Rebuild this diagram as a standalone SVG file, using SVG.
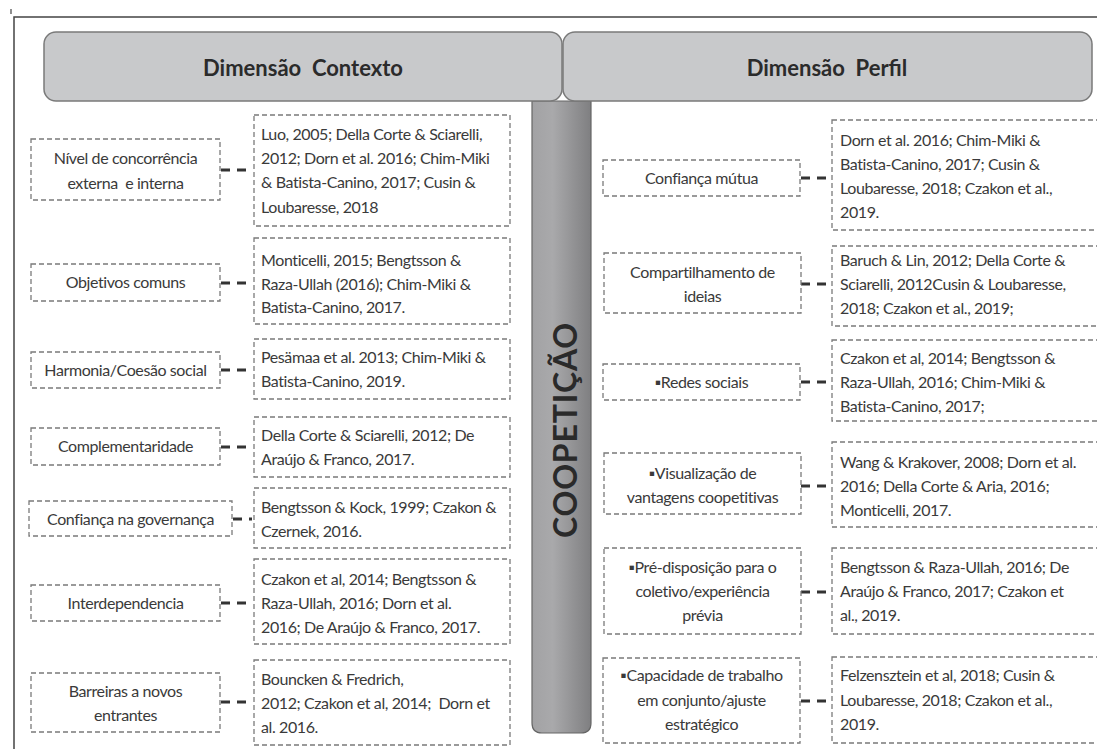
<svg xmlns="http://www.w3.org/2000/svg" width="1097" height="749" viewBox="0 0 1097 749">
<defs>
<linearGradient id="barg" x1="0" y1="0" x2="1" y2="0">
<stop offset="0" stop-color="#a2a2a4"/>
<stop offset="0.35" stop-color="#a9a9ab"/>
<stop offset="1" stop-color="#7f7f81"/>
</linearGradient>
<style>
.hdr{fill:#c8c9cb;stroke:#7a7a7a;stroke-width:1.5}
.ht{font-family:Lato,"Liberation Sans",sans-serif;font-weight:bold;font-size:22px;fill:#2b2b2b;text-anchor:middle}
.box{fill:#fff;stroke:#7a7a7a;stroke-width:1.3;stroke-dasharray:5 3}
.t{font-family:Lato,"DejaVu Sans",sans-serif;font-size:16px;letter-spacing:-0.4px;fill:#3a3a3a}
.c{text-anchor:middle}
.con{stroke:#333;stroke-width:3;stroke-dasharray:9 7;fill:none}
.frame{stroke:#444;stroke-width:1.5;fill:none}
</style>
</defs>
<rect width="1097" height="749" fill="#fff"/>
<g id="frame">
<path class="frame" d="M14,749 V17 H1097"/>
<line x1="11" y1="9" x2="11" y2="14" stroke="#444" stroke-width="1.2"/>
</g>
<g id="bar">
<path d="M532,101 V723 Q532,733 542,733 H581 Q591,733 591,723 V101 Z" fill="url(#barg)" stroke="#666" stroke-width="1.2"/>
<text transform="translate(577,430) rotate(-90)" font-family="Lato,'Liberation Sans',sans-serif" font-weight="bold" font-size="32" fill="#2a2a2a" text-anchor="middle" letter-spacing="0.8">COOPETIÇÃO</text>
</g>
<g id="header-contexto">
<rect class="hdr" x="44" y="32" width="518" height="69" rx="12"/>
<text class="ht" x="303" y="76" xml:space="preserve">Dimensão  Contexto</text>
</g>
<g id="header-perfil">
<rect class="hdr" x="563" y="32" width="529" height="69" rx="12"/>
<text class="ht" x="827" y="76" xml:space="preserve">Dimensão  Perfil</text>
</g>
<g id="connectors">
<line class="con" x1="221" y1="170" x2="248" y2="170"/>
<line class="con" x1="221" y1="283" x2="248" y2="283"/>
<line class="con" x1="221" y1="370" x2="248" y2="370"/>
<line class="con" x1="221" y1="447" x2="248" y2="447"/>
<line class="con" x1="233" y1="519" x2="252" y2="519"/>
<line class="con" x1="221" y1="603" x2="248" y2="603"/>
<line class="con" x1="221" y1="702" x2="248" y2="702"/>
<line class="con" x1="801" y1="178" x2="828" y2="178"/>
<line class="con" x1="801" y1="284" x2="828" y2="284"/>
<line class="con" x1="801" y1="382" x2="828" y2="382"/>
<line class="con" x1="801" y1="486" x2="828" y2="486"/>
<line class="con" x1="801" y1="592" x2="828" y2="592"/>
<line class="con" x1="801" y1="701" x2="828" y2="701"/>
</g>
<g id="ctx-1">
<rect class="box" x="31" y="139" width="189" height="61"/>
<text class="t c" x="125.5" y="163.5">Nível de concorrência</text>
<text class="t c" x="125.5" y="188.5" xml:space="preserve">externa  e interna</text>
<rect class="box" x="254" y="115" width="256" height="111"/>
<text class="t" x="261" y="139.5">Luo, 2005; Della Corte &amp; Sciarelli,</text>
<text class="t" x="261" y="163.5">2012; Dorn et al. 2016; Chim-Miki</text>
<text class="t" x="261" y="188">&amp; Batista-Canino, 2017; Cusin &amp;</text>
<text class="t" x="261" y="212.5">Loubaresse, 2018</text>
</g>
<g id="ctx-2">
<rect class="box" x="31" y="264" width="189" height="37"/>
<text class="t c" x="125.5" y="287.5">Objetivos comuns</text>
<rect class="box" x="254" y="238" width="256" height="86"/>
<text class="t" x="261" y="265.5">Monticelli, 2015; Bengtsson &amp;</text>
<text class="t" x="261" y="289.5">Raza-Ullah (2016); Chim-Miki &amp;</text>
<text class="t" x="261" y="313">Batista-Canino, 2017.</text>
</g>
<g id="ctx-3">
<rect class="box" x="31" y="352" width="189" height="36"/>
<text class="t c" x="125.5" y="375.5">Harmonia/Coesão social</text>
<rect class="box" x="254" y="339" width="256" height="60"/>
<text class="t" x="261" y="363">Pesämaa et al. 2013; Chim-Miki &amp;</text>
<text class="t" x="261" y="387">Batista-Canino, 2019.</text>
</g>
<g id="ctx-4">
<rect class="box" x="31" y="428" width="189" height="37"/>
<text class="t c" x="125.5" y="452">Complementaridade</text>
<rect class="box" x="254" y="417" width="256" height="60"/>
<text class="t" x="261" y="440.5">Della Corte &amp; Sciarelli, 2012; De</text>
<text class="t" x="261" y="465">Araújo &amp; Franco, 2017.</text>
</g>
<g id="ctx-5">
<rect class="box" x="29" y="501" width="203" height="35"/>
<text class="t c" x="130.5" y="524.5">Confiança na governança</text>
<rect class="box" x="254" y="488" width="256" height="60"/>
<text class="t" x="261" y="513">Bengtsson &amp; Kock, 1999; Czakon &amp;</text>
<text class="t" x="261" y="537">Czernek, 2016.</text>
</g>
<g id="ctx-6">
<rect class="box" x="31" y="585" width="189" height="36"/>
<text class="t c" x="125.5" y="608.5">Interdependencia</text>
<rect class="box" x="254" y="559" width="256" height="85"/>
<text class="t" x="261" y="584.5">Czakon et al, 2014; Bengtsson &amp;</text>
<text class="t" x="261" y="608.5">Raza-Ullah, 2016; Dorn et al.</text>
<text class="t" x="261" y="632.5">2016; De Araújo &amp; Franco, 2017.</text>
</g>
<g id="ctx-7">
<rect class="box" x="31" y="673" width="189" height="59"/>
<text class="t c" x="125.5" y="696.5">Barreiras a novos</text>
<text class="t c" x="125.5" y="720.5">entrantes</text>
<rect class="box" x="254" y="660" width="256" height="85"/>
<text class="t" x="261" y="684.5">Bouncken &amp; Fredrich,</text>
<text class="t" x="261" y="708.5" xml:space="preserve">2012; Czakon et al, 2014;  Dorn et</text>
<text class="t" x="261" y="732.5">al. 2016.</text>
</g>
<g id="per-1">
<rect class="box" x="603" y="160" width="197" height="36"/>
<text class="t c" x="701.5" y="183.5">Confiança mútua</text>
<rect class="box" x="832" y="120" width="280" height="110"/>
<text class="t" x="840" y="145.5">Dorn et al. 2016; Chim-Miki &amp;</text>
<text class="t" x="840" y="169.5">Batista-Canino, 2017; Cusin &amp;</text>
<text class="t" x="840" y="193.5">Loubaresse, 2018; Czakon et al.,</text>
<text class="t" x="840" y="217.5">2019.</text>
</g>
<g id="per-2">
<rect class="box" x="604" y="253" width="197" height="60"/>
<text class="t c" x="702.5" y="277.5">Compartilhamento de</text>
<text class="t c" x="702.5" y="301.5">ideias</text>
<rect class="box" x="832" y="246" width="280" height="80"/>
<text class="t" x="840" y="265.5">Baruch &amp; Lin, 2012; Della Corte &amp;</text>
<text class="t" x="840" y="289.5">Sciarelli, 2012Cusin &amp; Loubaresse,</text>
<text class="t" x="840" y="313.5">2018; Czakon et al., 2019;</text>
</g>
<g id="per-3">
<rect class="box" x="603" y="364" width="197" height="36"/>
<text class="t c" x="701.5" y="387.5">▪Redes sociais</text>
<rect class="box" x="832" y="340" width="280" height="81"/>
<text class="t" x="840" y="363.5">Czakon et al, 2014; Bengtsson &amp;</text>
<text class="t" x="840" y="387.5">Raza-Ullah, 2016; Chim-Miki &amp;</text>
<text class="t" x="840" y="411.5">Batista-Canino, 2017;</text>
</g>
<g id="per-4">
<rect class="box" x="604" y="453" width="197" height="61"/>
<text class="t c" x="702.5" y="478.5">▪Visualização de</text>
<text class="t c" x="702.5" y="502.5">vantagens coopetitivas</text>
<rect class="box" x="832" y="442" width="280" height="85"/>
<text class="t" x="840" y="467.5">Wang &amp; Krakover, 2008; Dorn et al.</text>
<text class="t" x="840" y="491.5">2016; Della Corte &amp; Aria, 2016;</text>
<text class="t" x="840" y="515.5">Monticelli, 2017.</text>
</g>
<g id="per-5">
<rect class="box" x="604" y="548" width="197" height="86"/>
<text class="t c" x="702.5" y="572.5">▪Pré-disposição para o</text>
<text class="t c" x="702.5" y="596.5">coletivo/experiência</text>
<text class="t c" x="702.5" y="620.5">prévia</text>
<rect class="box" x="832" y="548" width="280" height="86"/>
<text class="t" x="840" y="572.5">Bengtsson &amp; Raza-Ullah, 2016; De</text>
<text class="t" x="840" y="596.5">Araújo &amp; Franco, 2017; Czakon et</text>
<text class="t" x="840" y="620.5">al., 2019.</text>
</g>
<g id="per-6">
<rect class="box" x="603" y="658" width="197" height="85"/>
<text class="t c" x="701.5" y="680.5">▪Capacidade de trabalho</text>
<text class="t c" x="701.5" y="705.5">em conjunto/ajuste</text>
<text class="t c" x="701.5" y="729.5">estratégico</text>
<rect class="box" x="832" y="657" width="280" height="86"/>
<text class="t" x="840" y="680.5">Felzensztein et al, 2018; Cusin &amp;</text>
<text class="t" x="840" y="705.5">Loubaresse, 2018; Czakon et al.,</text>
<text class="t" x="840" y="729.5">2019.</text>
</g>
</svg>
